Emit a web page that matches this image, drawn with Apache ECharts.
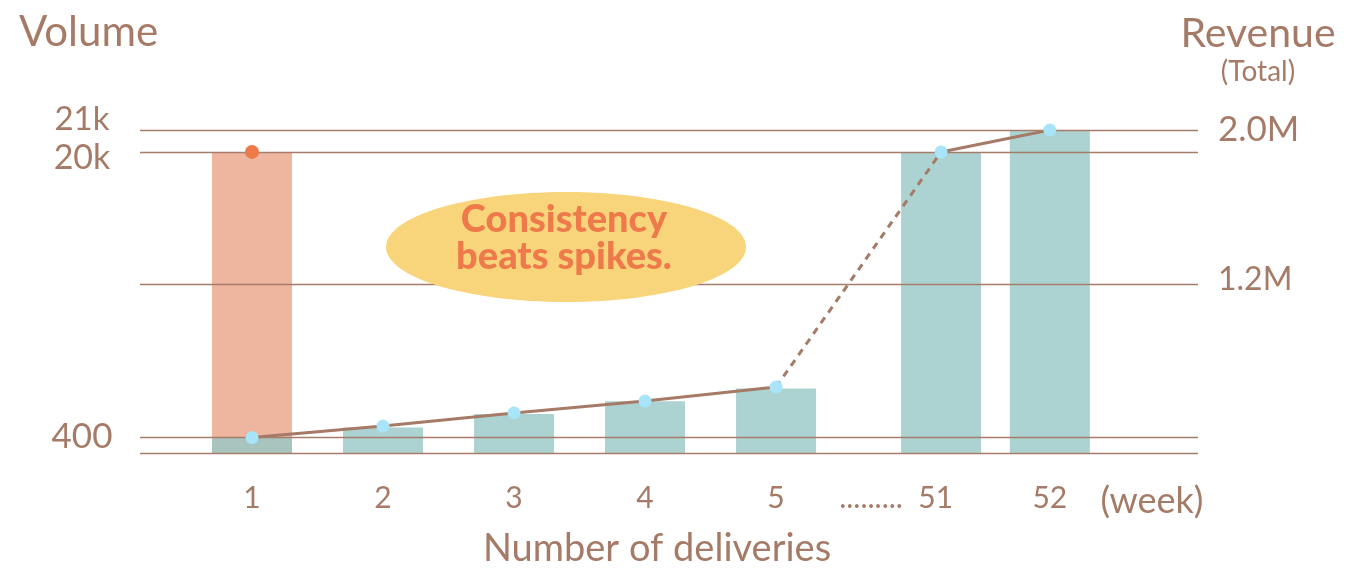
<!DOCTYPE html>
<html>
<head>
<meta charset="utf-8">
<script src="https://cdn.jsdelivr.net/npm/echarts@6/dist/echarts.min.js"></script>
<style>
html,body{margin:0;padding:0;background:#fff;}
#chart{width:1348px;height:581px;}
</style>
</head>
<body>
<div id="chart"></div>
<script>
// ---- data ----
const weeks = ['1', '2', '3', '4', '5', '51', '52'];
const volumeConsistent = [1000, 1700, 2600, 3450, 4300, 20000, 21500];
const volumeSpike = [20000];            // week 1 only
const revenueConsistent = [400000, 460000, 528000, 590000, 663000, 1886000, 2000000];
const revenueSpike = [1886000];         // week 1 only
const volumeTickValues = [400, 20000, 21000];
const volumeTickLabels = ['400', '20k', '21k'];
const revenueTickValues = [1200000, 2000000];
const revenueTickLabels = ['1.2M', '2.0M'];
const revenueGridValues = [400000, 1200000, 2000000];
const volumeGridValues = [0, 20000];

// ---- layout (axis slots, not data) ----
const slot = [1, 2, 3, 4, 5, 6.26, 7.09];
const weekNameSlot = 7.87;

const brown = '#A57B67';
const gridLineStyle = { color: '#A67D6A', width: 1.3, type: 'solid' };

const pt = (arr, idx) => idx.map(i => [slot[i], arr[i]]);

const chart = echarts.init(document.getElementById('chart'));
chart.setOption({
  animation: false,
  backgroundColor: '#fff',
  textStyle: { fontFamily: 'Lato', color: brown },
  title: [
    { text: 'Volume', left: 14, top: 6, textStyle: { fontFamily: 'Lato', fontSize: 42, fontWeight: 'normal', color: brown } },
    { text: 'Revenue', subtext: '(Total)', left: 1253, top: 8, textAlign: 'center', itemGap: 4,
      textStyle: { fontFamily: 'Lato', fontSize: 41, fontWeight: 'normal', color: brown },
      subtextStyle: { fontFamily: 'Lato', fontSize: 28, color: brown } }
  ],
  grid: { left: 140, right: 150, top: 130, bottom: 128, containLabel: false },
  xAxis: {
    type: 'value', min: 0.145, max: 8.221,
    name: 'Number of deliveries', nameLocation: 'middle', nameGap: 77,
    nameTextStyle: { fontSize: 38, color: brown, padding: [0, 24, 0, 0] },
    axisLine: { show: false }, axisTick: { show: false }, splitLine: { show: false },
    axisLabel: {
      customValues: slot.concat([weekNameSlot]),
      margin: 30, fontSize: 30, color: brown,
      formatter: function (v) {
        if (Math.abs(v - weekNameSlot) < 0.01) return '{w|(week)}';
        const i = slot.findIndex(s => Math.abs(s - v) < 0.01);
        if (i < 0) return '';
        if (weeks[i] === '51') return '{d|.........  ' + weeks[i] + '}';
        return weeks[i];
      },
      rich: {
        d: { fontSize: 30, color: brown, padding: [0, 90, 0, 0] },
        w: { fontSize: 36, color: brown, padding: [0, 0, 4, 0] }
      }
    }
  },
  yAxis: [
    {
      type: 'value', min: 0, max: 21500, position: 'left',
      axisLine: { show: false }, axisTick: { show: false }, splitLine: { show: false },
      axisLabel: {
        customValues: volumeTickValues, align: 'center', margin: 58, fontSize: 34, color: brown,
        formatter: function (v) {
          const i = volumeTickValues.indexOf(v);
          const key = ['a', 'b', 'c'][i];
          return '{' + key + '|' + volumeTickLabels[i] + '}';
        },
        rich: {
          a: { fontSize: 35, color: brown, padding: [0, 0, 20, 0] },
          b: { fontSize: 34, color: brown, padding: [10, 0, 0, 0] },
          c: { fontSize: 33, color: brown, padding: [0, 0, 36, 0] }
        }
      }
    },
    {
      type: 'value', min: 320000, max: 2000000, position: 'right',
      axisLine: { show: false }, axisTick: { show: false }, splitLine: { show: false },
      axisLabel: {
        customValues: revenueTickValues, align: 'left', margin: 20, fontSize: 33, color: brown,
        formatter: function (v) {
          const i = revenueTickValues.indexOf(v);
          return '{' + (i === 0 ? 'a' : 'b') + '|' + revenueTickLabels[i] + '}';
        },
        rich: {
          a: { fontSize: 32, color: brown, padding: [0, 0, 8, 0] },
          b: { fontSize: 35, color: brown }
        }
      }
    }
  ],
  series: [
    {
      name: 'Spike volume', type: 'bar', yAxisIndex: 0, barWidth: 80, barGap: '-100%',
      itemStyle: { color: '#EEB59F' },
      data: volumeSpike.map((v, i) => [slot[i], v])
    },
    {
      name: 'Consistent volume', type: 'bar', yAxisIndex: 0, barWidth: 80, barGap: '-100%',
      itemStyle: { color: '#ACD3D2' },
      data: volumeConsistent.map((v, i) => ({ value: [slot[i], v], itemStyle: i === 0 ? { color: '#A8C4BF' } : undefined })),
      markLine: {
        silent: true, symbol: ['none', 'none'], label: { show: false },
        lineStyle: gridLineStyle,
        data: volumeGridValues.map(v => ({ yAxis: v }))
      }
    },
    {
      name: 'Revenue', type: 'line', yAxisIndex: 1, z: 3,
      showSymbol: false, lineStyle: { color: '#A57A66', width: 3 },
      data: pt(revenueConsistent, [0, 1, 2, 3, 4]),
      markLine: {
        silent: true, symbol: ['none', 'none'], label: { show: false },
        lineStyle: gridLineStyle,
        data: revenueGridValues.map(v => ({ yAxis: v }))
      }
    },
    {
      name: 'Revenue gap', type: 'line', yAxisIndex: 1, z: 3,
      showSymbol: false, lineStyle: { color: '#A57A66', width: 3, type: [7, 6] },
      data: pt(revenueConsistent, [4, 5])
    },
    {
      name: 'Revenue end', type: 'line', yAxisIndex: 1, z: 3,
      showSymbol: false, lineStyle: { color: '#A57A66', width: 3 },
      data: pt(revenueConsistent, [5, 6])
    },
    {
      name: 'Revenue points', type: 'scatter', yAxisIndex: 1, z: 5,
      symbolSize: 13, itemStyle: { color: '#A8E5F8', opacity: 1 },
      data: pt(revenueConsistent, [0, 1, 2, 3, 4, 5, 6])
    },
    {
      name: 'Spike revenue', type: 'scatter', yAxisIndex: 1, z: 5,
      symbolSize: 14, itemStyle: { color: '#EE7A4A', opacity: 1 },
      data: revenueSpike.map((v, i) => [slot[i], v])
    }
  ],
  graphic: [
    {
      type: 'group', left: 386, top: 192, z: 100,
      children: [
        { type: 'ellipse', shape: { cx: 180, cy: 55, rx: 180, ry: 55 }, style: { fill: '#F8D57B' }, z: 100 },
        { type: 'text', x: 178, y: 46, z: 101,
          style: { text: 'Consistency\nbeats spikes.', fill: '#EE7A4C', font: '900 38px Lato',
                   align: 'center', verticalAlign: 'middle', lineHeight: 37 } }
      ]
    }
  ]
});
</script>
</body>
</html>
